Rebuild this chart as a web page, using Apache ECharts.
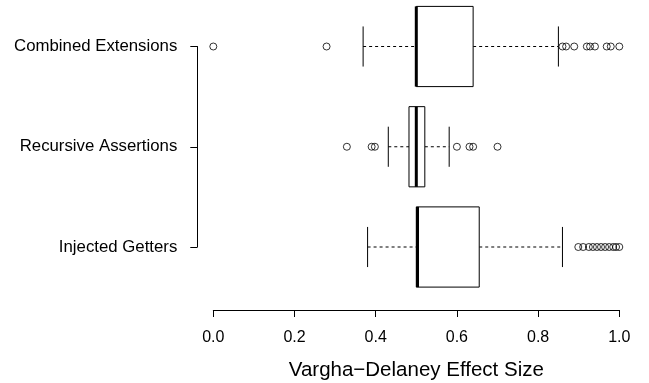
<!DOCTYPE html>
<html>
<head>
<meta charset="utf-8">
<script src="https://cdn.jsdelivr.net/npm/echarts@6/dist/echarts.min.js"></script>
<style>
  html, body { margin: 0; padding: 0; background: #fff; }
  #chart { width: 649px; height: 383px; }
</style>
</head>
<body>
<div id="chart"></div>
<script>
// categories bottom -> top (category axis runs upward)
var categories = ["Injected Getters", "Recursive Assertions", "Combined Extensions"];
var whiskerLow = [0.38, 0.431, 0.369];
var q1 = [0.5, 0.482, 0.5];
var median = [0.503, 0.5, 0.5];
var q3 = [0.655, 0.521, 0.64];
var whiskerHigh = [0.86, 0.581, 0.85];

var outInjected = [0.899, 0.911, 0.925, 0.935, 0.945, 0.955, 0.965, 0.975, 0.985, 0.992, 1.0];
var outRecursive = [0.329, 0.39, 0.398, 0.6, 0.631, 0.64, 0.7];
var outCombined = [0.0, 0.279, 0.86, 0.869, 0.889, 0.92, 0.928, 0.94, 0.969, 0.979, 1.0];

var xTicks = { min: 0, max: 1, interval: 0.2 };

var boxData = [];
for (var i = 0; i < categories.length; i++) {
  boxData.push([i, whiskerLow[i], q1[i], median[i], q3[i], whiskerHigh[i]]);
}
var outlierData = [];
[outInjected, outRecursive, outCombined].forEach(function (arr, idx) {
  arr.forEach(function (v) { outlierData.push([v, idx]); });
});

var font = "'Liberation Sans', Arial, Helvetica, sans-serif";
var chart = echarts.init(document.getElementById("chart"));

function renderBox(params, api) {
  var cat = api.value(0);
  var step = api.size([0, 1])[1];
  var y = api.coord([0, cat])[1];
  var xs = [1, 2, 3, 4, 5].map(function (d) { return api.coord([api.value(d), cat])[0]; });
  var hb = step * 0.4, hs = step * 0.2;
  var solid = { stroke: "#000", lineWidth: 1, fill: null };
  var dashed = { stroke: "#000", lineWidth: 1, lineDash: [3, 3], fill: null };
  return {
    type: "group",
    children: [
      { type: "line", shape: { x1: xs[0], y1: y, x2: xs[1], y2: y }, style: dashed },
      { type: "line", shape: { x1: xs[3], y1: y, x2: xs[4], y2: y }, style: dashed },
      { type: "line", shape: { x1: xs[0], y1: y - hs, x2: xs[0], y2: y + hs }, style: solid },
      { type: "line", shape: { x1: xs[4], y1: y - hs, x2: xs[4], y2: y + hs }, style: solid },
      { type: "rect", shape: { x: xs[1], y: y - hb, width: xs[3] - xs[1], height: hb * 2 },
        style: { stroke: "#000", lineWidth: 1, fill: "#fff" } },
      { type: "line", shape: { x1: xs[2], y1: y - hb, x2: xs[2], y2: y + hb },
        style: { stroke: "#000", lineWidth: 3, fill: null } }
    ]
  };
}

var option = {
  animation: false,
  backgroundColor: "#fff",
  textStyle: { fontFamily: font },
  grid: { left: 213.3, right: 29.7, top: 46.5, bottom: 136, containLabel: false, outerBoundsMode: "none" },
  xAxis: {
    type: "value",
    min: xTicks.min,
    max: xTicks.max,
    interval: xTicks.interval,
    offset: 63,
    name: "Vargha\u2212Delaney Effect Size",
    nameLocation: "middle",
    nameGap: 50,
    nameTextStyle: { fontSize: 20.5, color: "#000", fontFamily: font },
    axisLine: { show: true, onZero: false, lineStyle: { color: "#000", width: 1 } },
    axisTick: { show: true, length: 7, lineStyle: { color: "#000", width: 1 } },
    axisLabel: {
      fontSize: 16, color: "#000", margin: 20, fontFamily: font,
      formatter: function (v) { return v.toFixed(1); }
    },
    splitLine: { show: false }
  },
  yAxis: {
    type: "category",
    data: categories,
    boundaryGap: false,
    offset: 16,
    axisLine: { show: true, onZero: false, lineStyle: { color: "#000", width: 1 } },
    axisTick: { show: true, length: 7, lineStyle: { color: "#000", width: 1 } },
    axisLabel: { fontSize: 16.8, color: "#000", margin: 20, fontFamily: font },
    splitLine: { show: false }
  },
  series: [
    {
      type: "custom",
      renderItem: renderBox,
      clip: false,
      encode: { x: [1, 2, 3, 4, 5], y: 0 },
      data: boxData
    },
    {
      type: "scatter",
      clip: false,
      symbol: "circle",
      symbolSize: 7,
      itemStyle: { color: "transparent", borderColor: "#000", borderWidth: 1 },
      data: outlierData
    }
  ]
};
chart.setOption(option);
</script>
</body>
</html>
